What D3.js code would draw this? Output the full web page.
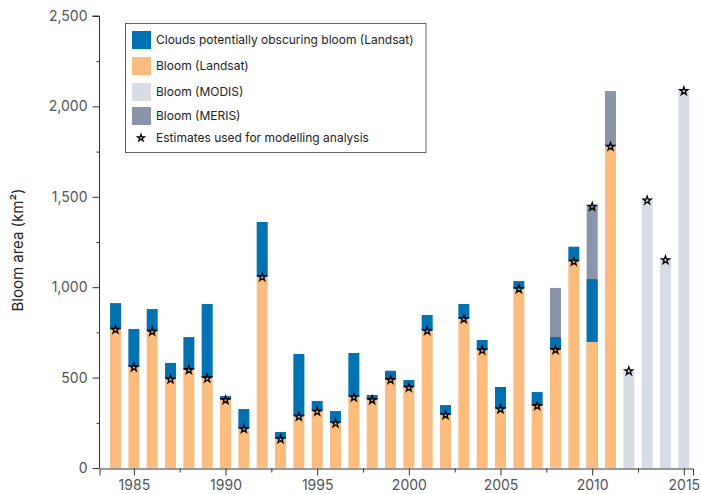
<!DOCTYPE html>
<html>
<head>
<meta charset="utf-8">
<script src="https://cdn.jsdelivr.net/npm/d3@7/dist/d3.min.js"></script>
<style>
  html, body { margin: 0; padding: 0; background: #fff; }
  svg { display: block; font-family: Inter, "Open Sans", sans-serif; }
</style>
</head>
<body>
<svg id="chart" width="701" height="494"></svg>
<script>
// ---- data ----
const years = d3.range(1984, 2016);
// Landsat bloom area (orange), null when absent
const landsatBloom = [765, 557, 754, 490, 542, 496, 376, 216, 1056, 160, 284, 312, 247, 391, 376, 487,
  444, 758, 293, 824, 650, 325, 990, 343, 653, 1141, 697, 1777, null, null, null, null];
// Landsat bloom + clouds potentially obscuring bloom (top of blue)
const landsatTotal = [912, 769, 879, 581, 724, 907, 398, 326, 1361, 199, 631, 371, 315, 636, 404, 538,
  487, 846, 348, 907, 708, 448, 1034, 420, 724, 1224, 1045, 1777, null, null, null, null];
const merisYears = [2008, 2010, 2011];
const merisBloom = [996, 1455, 2085];
const modisYears = [2012, 2013, 2014, 2015];
const modisBloom = [536, 1485, 1158, 2090];
// Estimates used for modelling analysis (stars)
const estimates = [765, 557, 754, 490, 542, 496, 376, 216, 1056, 160, 284, 312, 247, 391, 376, 487,
  444, 758, 293, 824, 650, 325, 990, 343, 653, 1141, 1445, 1777, 536, 1480, 1150, 2085];
const yTicks = [0, 500, 1000, 1500, 2000, 2500];
const yMinorTicks = [250, 750, 1250, 1750, 2250];
const xTicks = [1985, 1990, 1995, 2000, 2005, 2010, 2015];
const xMinorTicks = [1987.5, 1992.5, 1997.5, 2002.5, 2007.5, 2012.5];
const legendLabels = ["Clouds potentially obscuring bloom (Landsat)", "Bloom (Landsat)", "Bloom (MODIS)", "Bloom (MERIS)", "Estimates used for modelling analysis"];

const colors = { clouds: "#0071b1", landsat: "#fbbc7e", modis: "#d8dce5", meris: "#8a94ab" };

// ---- scales ----
const svg = d3.select("#chart");
const x = d3.scaleLinear().domain([1983.125, 2015.5]).range([99.5, 693]);
const y = d3.scaleLinear().domain([0, 2500]).range([468, 16]);
const bw = 0.6; // bar width in years

const g = svg.append("g");

// MERIS (behind)
g.selectAll("rect.meris").data(merisYears.map((yr, i) => ({ yr, v: merisBloom[i] })))
  .join("rect").attr("class", "meris")
  .attr("x", d => x(d.yr - bw / 2)).attr("width", x(bw) - x(0))
  .attr("y", d => y(d.v)).attr("height", d => y(0) - y(d.v))
  .attr("fill", colors.meris);

// MODIS
g.selectAll("rect.modis").data(modisYears.map((yr, i) => ({ yr, v: modisBloom[i] })))
  .join("rect").attr("class", "modis")
  .attr("x", d => x(d.yr - bw / 2)).attr("width", x(bw) - x(0))
  .attr("y", d => y(d.v)).attr("height", d => y(0) - y(d.v))
  .attr("fill", colors.modis);

// Landsat clouds (blue) from bloom to total
const landsat = years.map((yr, i) => ({ yr, b: landsatBloom[i], t: landsatTotal[i] })).filter(d => d.b != null);
g.selectAll("rect.clouds").data(landsat.filter(d => d.t > d.b))
  .join("rect").attr("class", "clouds")
  .attr("x", d => x(d.yr - bw / 2)).attr("width", x(bw) - x(0))
  .attr("y", d => y(d.t)).attr("height", d => y(d.b) - y(d.t))
  .attr("fill", colors.clouds);

g.selectAll("rect.landsat").data(landsat)
  .join("rect").attr("class", "landsat")
  .attr("x", d => x(d.yr - bw / 2)).attr("width", x(bw) - x(0))
  .attr("y", d => y(d.b)).attr("height", d => y(0) - y(d.b))
  .attr("fill", colors.landsat);

// Stars
const star = d3.symbol().type(d3.symbolStar).size(20);
g.selectAll("path.star").data(years.map((yr, i) => ({ yr, v: estimates[i] })))
  .join("path").attr("class", "star")
  .attr("d", star)
  .attr("transform", d => `translate(${x(d.yr)},${y(d.v)})`)
  .attr("fill", "none").attr("stroke", "#000").attr("stroke-width", 1.3);

// ---- axes ----
const axisColor = "#333";
const labelColor = "#555";
const yAxis = svg.append("g").attr("transform", "translate(99.5,0)")
  .call(d3.axisLeft(y).tickValues(yTicks).tickFormat(d3.format(",")).tickSize(7).tickPadding(5));
yAxis.select(".domain").attr("d", `M-7,${y(2500)}H0V${y(0)}`);
svg.append("g").attr("transform", "translate(99.5,0)")
  .call(d3.axisLeft(y).tickValues(yMinorTicks).tickFormat("").tickSize(3))
  .select(".domain").remove();

const xAxis = svg.append("g").attr("transform", "translate(0,468.5)")
  .call(d3.axisBottom(x).tickValues(xTicks).tickFormat(d3.format("d")).tickSize(7).tickPadding(5));
svg.append("g").attr("transform", "translate(0,468.5)")
  .call(d3.axisBottom(x).tickValues(xMinorTicks).tickFormat("").tickSize(4))
  .select(".domain").remove();

svg.selectAll(".domain, .tick line").attr("stroke", axisColor).attr("stroke-width", 1);
svg.selectAll(".tick text").attr("fill", labelColor).attr("font-size", 14)
  .attr("font-family", "Inter, 'Open Sans', sans-serif");

svg.append("text")
  .attr("transform", "translate(23,250) rotate(-90)")
  .attr("text-anchor", "middle")
  .attr("font-size", 15).attr("fill", "#222")
  .text("Bloom area (km²)");

// ---- legend ----
const lg = svg.append("g");
lg.append("rect").attr("x", 125.5).attr("y", 23.5).attr("width", 300.5).attr("height", 129)
  .attr("fill", "#fff").attr("stroke", "#666").attr("stroke-width", 1);
const swatchColors = [colors.clouds, colors.landsat, colors.modis, colors.meris];
const rowY = [40, 66, 92, 116, 138];
swatchColors.forEach((c, i) => {
  lg.append("rect").attr("x", 132).attr("y", rowY[i] - 9).attr("width", 19).attr("height", 18).attr("fill", c);
});
lg.append("path").attr("d", d3.symbol().type(d3.symbolStar).size(14))
  .attr("transform", `translate(141,${rowY[4]})`)
  .attr("fill", "none").attr("stroke", "#000").attr("stroke-width", 1.3);
legendLabels.forEach((t, i) => {
  lg.append("text").attr("x", 156).attr("y", rowY[i]).attr("dy", "0.35em")
    .attr("font-size", 12).attr("fill", "#222").text(t);
});
</script>
</body>
</html>
